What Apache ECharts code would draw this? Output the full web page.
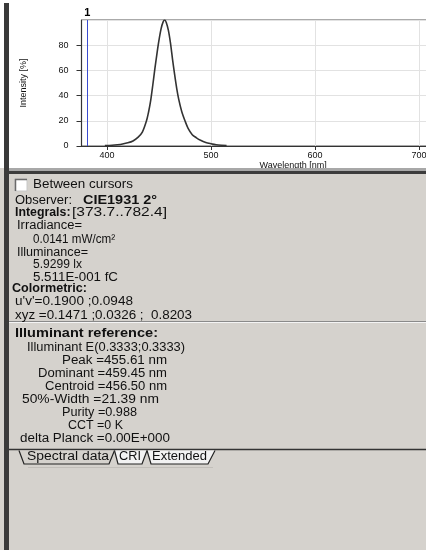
<!DOCTYPE html>
<html><head><meta charset="utf-8">
<script src="https://cdn.jsdelivr.net/npm/echarts@6/dist/echarts.min.js"></script>
<style>html,body{margin:0;padding:0;background:#fff}#c{width:426px;height:550px}</style>
</head><body><div id="c"></div>
<script>
// ---- data ----
const wavelengths = [398,405,410,415,420,425,430,434,438,440,442,444,446,448,450,452,454,455.6,457,459,461,463,465,467,469,472,475,478,482,486,490,495,500,505,510,515];
const intensity   = [0.3,0.6,1,1.6,2.5,4,7,11,20,27,36,48,61,73,84,93,98.5,100,98,92,82,69,57,46,37,27,20,14,9,6.5,4.5,2.8,1.8,1,0.6,0.4];
const xRange = [375.5, 782.4];
const yTicks = [0, 20, 40, 60, 80, 100];
const cursorWavelength = 381;
const cursorLabel = '1';
const xName = 'Wavelength [nm]';
const yName = 'Intensity [%]';
const checkboxLabel = 'Between cursors';
const observerTexts = ['Observer:', 'CIE1931 2°'];
const integralsTexts = ['Integrals:', '[373.7..782.4]'];
const radiometricTexts = ['Irradiance=', '0.0141 mW/cm²', 'Illuminance=', '5.9299 lx', '5.511E-001 fC'];
const colorTexts = ['Colormetric:', "u'v'=0.1900 ;0.0948", 'xyz =0.1471 ;0.0326 ;  0.8203'];
const illuminantTexts = ['Illuminant reference:', 'Illuminant E(0.3333;0.3333)', 'Peak =455.61 nm', 'Dominant =459.45 nm',
  'Centroid =456.50 nm', '50%-Width =21.39 nm', 'Purity =0.988', 'CCT =0 K', 'delta Planck =0.00E+000'];
const tabNames = ['Spectral data', 'CRI', 'Extended'];

// ---- layout helpers ----
const FONT = '"Liberation Sans", Arial, sans-serif';
const mctx = document.createElement('canvas').getContext('2d');
function fitText(text, x, y, w, bold, size) {
  const font = (bold ? 'bold ' : '') + size + 'px ' + FONT;
  mctx.font = font;
  const mw = mctx.measureText(text).width || w;
  return { type: 'text', x: x, y: y, scaleX: w / mw, z: 20,
    style: { text: text, font: font, fill: '#111', align: 'left', verticalAlign: 'middle' } };
}
const PANEL = '#d5d2cd';
const g = [];
// background regions
g.push({ type: 'rect', shape: { x: 0, y: 168, width: 426, height: 382 }, style: { fill: PANEL }, z: 1 });
g.push({ type: 'rect', shape: { x: 9, y: 168, width: 417, height: 3 }, style: { fill: '#a8a8a8' }, z: 2 });
g.push({ type: 'rect', shape: { x: 4, y: 171, width: 422, height: 3 }, style: { fill: '#3c3c3c' }, z: 2 });
g.push({ type: 'rect', shape: { x: 4, y: 3, width: 5, height: 547 }, style: { fill: '#3a3a3a' }, z: 2 });
// checkbox
g.push({ type: 'rect', shape: { x: 15, y: 179, width: 12, height: 12 }, style: { fill: '#fff', stroke: '#c8c8c8', lineWidth: 1 }, z: 5 });
g.push({ type: 'polyline', shape: { points: [[15.5, 191], [15.5, 179.5], [27, 179.5]] }, style: { stroke: '#6a6a6a', lineWidth: 1.5, fill: null }, z: 6 });
// separators
g.push({ type: 'line', shape: { x1: 9, y1: 321.5, x2: 426, y2: 321.5 }, style: { stroke: '#8a8a8a', lineWidth: 1 }, z: 5 });
g.push({ type: 'line', shape: { x1: 9, y1: 322.5, x2: 426, y2: 322.5 }, style: { stroke: '#f4f4f4', lineWidth: 1 }, z: 5 });
g.push({ type: 'line', shape: { x1: 9, y1: 449.5, x2: 426, y2: 449.5 }, style: { stroke: '#333', lineWidth: 1.5 }, z: 5 });
g.push({ type: 'line', shape: { x1: 28, y1: 467.5, x2: 213, y2: 467.5 }, style: { stroke: '#c2bfba', lineWidth: 1 }, z: 5 });
// tabs
const tabShapes = [
  [[19, 450.5], [24, 464], [109, 464], [114.5, 450.5]],
  [[114.5, 450.5], [118, 464], [142, 464], [147, 450.5]],
  [[147, 450.5], [151, 464], [208, 464], [215, 450.5]]
];
[2, 1, 0].forEach(function (i) {
  g.push({ type: 'polygon', shape: { points: tabShapes[i] }, style: { fill: i === 0 ? PANEL : '#f2f2f2' }, z: 6 + (i === 0 ? 2 : 0) });
  g.push({ type: 'polyline', shape: { points: tabShapes[i] }, style: { stroke: '#222', lineWidth: 1.2, fill: null }, z: 7 + (i === 0 ? 2 : 0) });
});
// texts
g.push(fitText(checkboxLabel, 33, 184.5, 100, false, 12.5));
g.push(fitText(observerTexts[0], 15, 200.5, 57, false, 12.5));
g.push(fitText(observerTexts[1], 83, 200.5, 74, true, 13));
g.push(fitText(integralsTexts[0], 15, 213, 55.5, true, 12.5));
g.push(fitText(integralsTexts[1], 72, 213, 95, false, 12.5));
const radPos = [[17, 226, 65], [33, 240, 82], [17, 252.5, 71], [33, 265, 49], [33, 277.5, 85]];
radiometricTexts.forEach(function (t, i) { g.push(fitText(t, radPos[i][0], radPos[i][1], radPos[i][2], false, 12.5)); });
const colPos = [[12, 288.5, 75, true], [15, 302, 118, false], [15, 315.5, 177, false]];
colorTexts.forEach(function (t, i) { g.push(fitText(t, colPos[i][0], colPos[i][1], colPos[i][2], colPos[i][3], 12.5)); });
const illPos = [[15, 334, 143, true], [27, 347.5, 158], [62, 361, 105], [38, 373.5, 129], [45, 386.5, 122],
  [22, 400, 137], [62, 412.5, 75], [68, 426, 55], [20, 438.5, 150]];
illuminantTexts.forEach(function (t, i) { g.push(fitText(t, illPos[i][0], illPos[i][1], illPos[i][2], !!illPos[i][3], 12.5)); });
const tabPos = [[27, 457, 82], [119, 457, 22], [152, 457, 55]];
tabNames.forEach(function (t, i) { g.push(fitText(t, tabPos[i][0], tabPos[i][1], tabPos[i][2], false, 12.5)); });

const chart = echarts.init(document.getElementById('c'), null, { renderer: 'canvas' });
chart.setOption({
  backgroundColor: '#ffffff',
  animation: false,
  grid: { left: 81.5, top: 20, width: (xRange[1] - xRange[0]) * 1.04, height: 126, show: true,
    borderColor: '#555', borderWidth: 1, backgroundColor: '#fff', containLabel: false, outerBoundsMode: 'none' },
  xAxis: {
    type: 'value', min: xRange[0], max: xRange[1],
    name: xName, nameLocation: 'middle', nameGap: 14,
    nameTextStyle: { fontSize: 9, color: '#111', fontFamily: FONT },
    axisLine: { lineStyle: { color: '#333', width: 1.2 } },
    axisTick: { length: 4, lineStyle: { color: '#333' } },
    axisLabel: { fontSize: 9, color: '#111', margin: 5, showMinLabel: false, showMaxLabel: false, fontFamily: FONT },
    splitLine: { lineStyle: { color: '#e2e2e2' } }
  },
  yAxis: {
    type: 'value', min: yTicks[0], max: yTicks[yTicks.length - 1], interval: yTicks[1] - yTicks[0],
    name: yName, nameLocation: 'middle', nameGap: 53,
    nameTextStyle: { fontSize: 9, color: '#111', fontFamily: FONT },
    axisLine: { show: true, lineStyle: { color: '#333', width: 1.2 } },
    axisTick: { show: true, length: 5, lineStyle: { color: '#333' } },
    axisLabel: { fontSize: 9, color: '#111', margin: 13, showMaxLabel: false, fontFamily: FONT },
    splitLine: { lineStyle: { color: '#e2e2e2' } }
  },
  series: [{
    type: 'line', smooth: 0.3, showSymbol: false, silent: true,
    data: wavelengths.map(function (w, i) { return [w, intensity[i]]; }),
    lineStyle: { color: '#333', width: 1.6 },
    markLine: {
      silent: true, symbol: 'none', animation: false,
      data: [{ xAxis: cursorWavelength }],
      lineStyle: { color: '#3a4bd0', width: 1, type: 'solid' },
      label: { show: true, position: 'end', formatter: cursorLabel, color: '#000', fontWeight: 'bold', fontSize: 11, distance: 2, fontFamily: FONT }
    }
  }],
  graphic: { elements: g }
});
</script>
</body></html>
